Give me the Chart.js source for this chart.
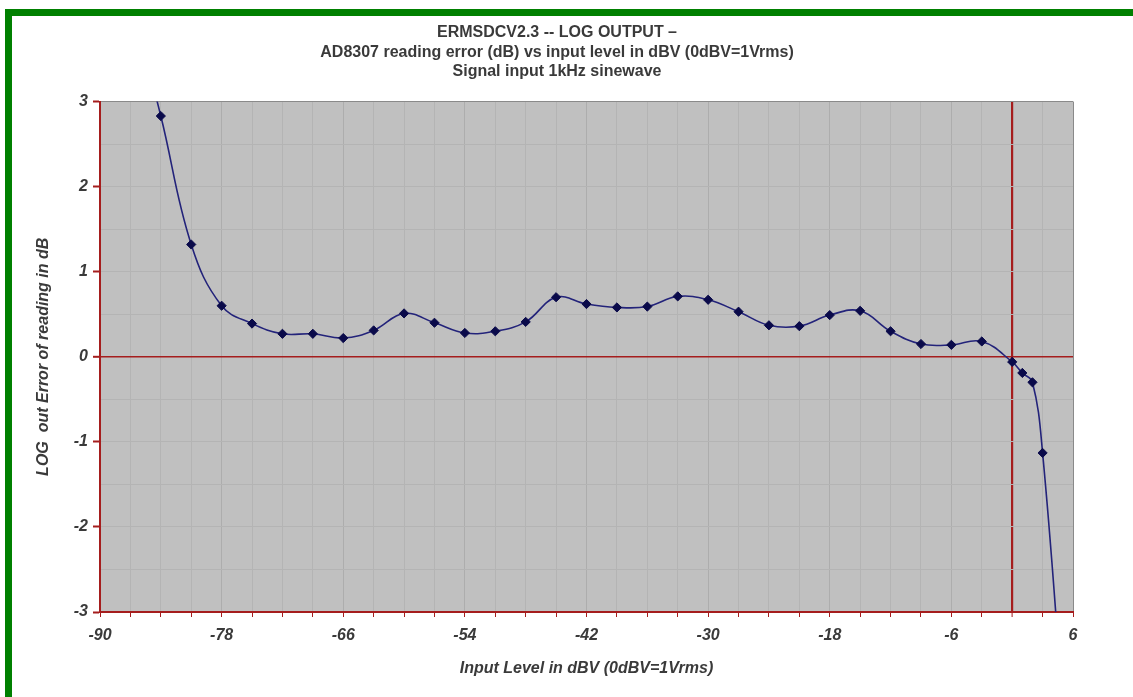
<!DOCTYPE html>
<html>
<head>
<meta charset="utf-8">
<script src="https://cdn.jsdelivr.net/npm/chart.js@4"></script>
<style>
  html, body { margin: 0; padding: 0; background: #fff; overflow: hidden; }
  #frame {
    position: absolute; left: 5px; top: 9px; width: 1140px; height: 700px;
    border-top: 7px solid #008000; border-left: 7px solid #008000;
  }
  #chart { position: absolute; left: 0; top: 0; }
</style>
</head>
<body>
<div id="frame"></div>
<canvas id="chart" width="1133" height="697"></canvas>
<script>
// input level (dBV) and reading error (dB)
const input_levels = [-87, -84, -81, -78, -75, -72, -69, -66, -63, -60, -57, -54, -51, -48, -45, -42,
    -39, -36, -33, -30, -27, -24, -21, -18, -15, -12, -9, -6, -3, 0, 1, 2, 3, 5];
const reading_error = [4.2, 2.83, 1.32, 0.60, 0.39, 0.27, 0.27, 0.22, 0.31, 0.51, 0.40, 0.28, 0.30, 0.41, 0.70, 0.62,
    0.58, 0.59, 0.71, 0.67, 0.53, 0.37, 0.36, 0.49, 0.54, 0.30, 0.15, 0.14, 0.18, -0.06, -0.19, -0.30, -1.13, -4.1];

const title_lines = [
    'ERMSDCV2.3 -- LOG OUTPUT \u2013',
    'AD8307 reading error (dB) vs input level in dBV (0dBV=1Vrms)',
    'Signal input 1kHz sinewave'
];
const x_title = 'Input Level in dBV (0dBV=1Vrms)';
const y_title = 'LOG  out Error of reading in dB';

const font_family = '"Liberation Sans", Arial, sans-serif';
const axis_red = '#a51d1d';
const text_grey = '#3a3a3a';

const points = input_levels.map((x, i) => ({ x: x, y: reading_error[i] }));

// grey plot background
const plotBackground = {
    id: 'plotBackground',
    beforeDraw(chart) {
        const a = chart.chartArea;
        const c = chart.ctx;
        c.save();
        c.fillStyle = '#c0c0c0';
        c.fillRect(a.left, a.top, a.right - a.left, a.bottom - a.top);
        c.restore();
    }
};

const ctx = document.getElementById('chart').getContext('2d');
const my_chart = new Chart(ctx, {
    type: 'line',
    data: {
        datasets: [{
            data: points,
            borderColor: '#23237a',
            borderWidth: 1.6,
            tension: 0.4,
            pointStyle: 'rectRot',
            pointRadius: 4.6,
            pointBackgroundColor: '#0a0a4a',
            pointBorderColor: '#0a0a4a',
            pointBorderWidth: 1
        }]
    },
    options: {
        responsive: false,
        animation: false,
        devicePixelRatio: 1,
        layout: { padding: { left: 41, right: 60, top: 0, bottom: 0 } },
        plugins: {
            legend: { display: false },
            tooltip: { enabled: false },
            title: {
                display: true,
                text: title_lines,
                color: text_grey,
                font: { family: font_family, size: 16, weight: 'bold', lineHeight: 1.22 },
                padding: { top: 23, bottom: 20 }
            }
        },
        scales: {
            x: {
                type: 'linear',
                min: -90,
                max: 6,
                afterFit: (scale) => { scale.height = 85; },
                ticks: {
                    stepSize: 3,
                    autoSkip: false,
                    maxRotation: 0,
                    padding: 9,
                    color: text_grey,
                    font: { family: font_family, size: 16, weight: 'bold', style: 'italic' },
                    callback: (v) => ((v + 90) % 12 === 0 ? String(v) : '')
                },
                grid: {
                    tickLength: 5,
                    color: (c) => {
                        const v = c.tick.value;
                        if (v === 0) return axis_red;
                        if (v === 6) return '#8a8a8a';
                        return (v + 90) % 12 === 0 ? '#adadad' : '#b4b4b4';
                    },
                    lineWidth: (c) => (c.tick.value === 0 ? 2.2 : 1),
                    tickColor: axis_red,
                    tickWidth: 1
                },
                border: { color: axis_red, width: 2 },
                title: {
                    display: true,
                    text: x_title,
                    color: text_grey,
                    font: { family: font_family, size: 16, weight: 'bold', style: 'italic' },
                    padding: { top: 0, bottom: 19 }
                }
            },
            y: {
                type: 'linear',
                min: -3,
                max: 3,
                afterFit: (scale) => { scale.width = 59; },
                ticks: {
                    stepSize: 0.5,
                    padding: 5,
                    color: text_grey,
                    font: { family: font_family, size: 16, weight: 'bold', style: 'italic' },
                    callback: (v) => (Number.isInteger(v) ? String(v) : '')
                },
                grid: {
                    tickLength: 7,
                    color: (c) => {
                        const v = c.tick.value;
                        if (v === 0) return axis_red;
                        if (v === 3) return '#8a8a8a';
                        return '#b4b4b4';
                    },
                    lineWidth: (c) => (c.tick.value === 0 ? 1.6 : 1),
                    tickColor: (c) => (Number.isInteger(c.tick.value) ? axis_red : 'rgba(0,0,0,0)'),
                    tickWidth: 2
                },
                border: { color: axis_red, width: 2 },
                title: {
                    display: true,
                    text: y_title,
                    color: text_grey,
                    font: { family: font_family, size: 16, weight: 'bold', style: 'italic' },
                    padding: { top: -7, bottom: 0 }
                }
            }
        }
    },
    plugins: [plotBackground]
});
</script>
</body>
</html>
